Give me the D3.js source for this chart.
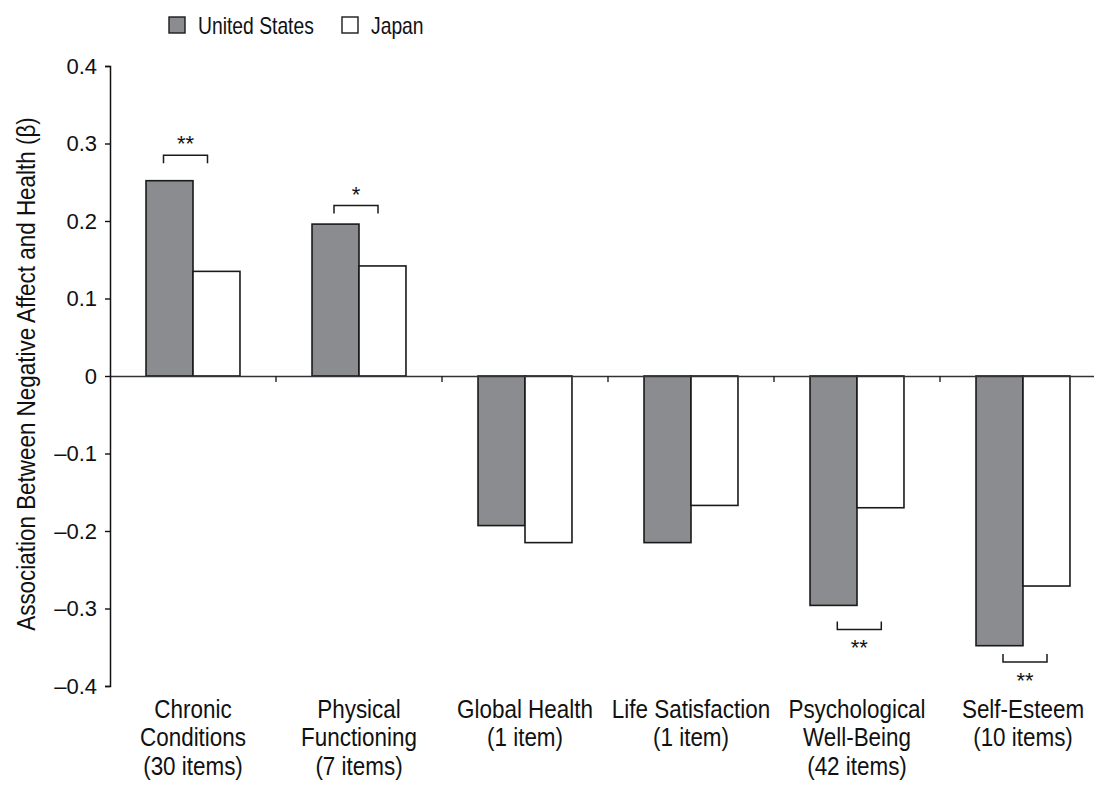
<!DOCTYPE html>
<html>
<head>
<meta charset="utf-8">
<script src="https://cdn.jsdelivr.net/npm/d3@7"></script>
<style>
  html, body { margin: 0; padding: 0; background: #fff; }
  svg text { font-family: "Liberation Sans", Arial, sans-serif; fill: #111; }
</style>
</head>
<body>
<svg id="chart" width="1094" height="785"></svg>
<script>
// Outcome measures (x categories), each drawn as up to three lines
const categories = [
  ["Chronic", "Conditions", "(30 items)"],
  ["Physical", "Functioning", "(7 items)"],
  ["Global Health", "(1 item)"],
  ["Life Satisfaction", "(1 item)"],
  ["Psychological", "Well-Being", "(42 items)"],
  ["Self-Esteem", "(10 items)"]
];
const seriesNames = ["United States", "Japan"];
const usValues    = [0.252, 0.196, -0.193, -0.215, -0.296, -0.348];
const japanValues = [0.135, 0.142, -0.215, -0.167, -0.170, -0.271];
const yTicks = [0.4, 0.3, 0.2, 0.1, 0, -0.1, -0.2, -0.3, -0.4];

// Significance markers: category index, bracket level (beta units), stars
const sigCategory = [0, 1, 4, 5];
const sigLevel    = [0.285, 0.220, -0.327, -0.369];
const sigStars    = ["**", "*", "**", "**"];

const svg = d3.select("#chart");
const plot = { left: 110, right: 1106, top: 66, bottom: 686 };
const condensed = 0.88;   // horizontal squeeze for a condensed face

const y = d3.scaleLinear().domain([-0.4, 0.4]).range([plot.bottom, plot.top]);
const x = d3.scaleBand().domain(d3.range(categories.length)).range([plot.left, plot.right]).padding(0);
const groupWidth = x.bandwidth() * 0.566;
const xs = d3.scaleBand().domain(seriesNames).range([0, groupWidth]).padding(0);
const fills = { "United States": "#8b8c90", "Japan": "#ffffff" };

// Bars
const rows = categories.map((c, i) => ({ i, values: [usValues[i], japanValues[i]] }));
const groups = svg.append("g").selectAll("g").data(rows).join("g")
  .attr("transform", d => `translate(${x(d.i) + (x.bandwidth() - groupWidth) / 2},0)`);
groups.selectAll("rect")
  .data(d => d.values.map((v, k) => ({ name: seriesNames[k], v })))
  .join("rect")
  .attr("x", d => xs(d.name))
  .attr("width", xs.bandwidth())
  .attr("y", d => y(Math.max(0, d.v)))
  .attr("height", d => Math.abs(y(d.v) - y(0)))
  .attr("fill", d => fills[d.name])
  .attr("stroke", "#1a1a1a")
  .attr("stroke-width", 1.6);

// Zero baseline with category separators
const zeroAxis = d3.axisBottom(x).tickSize(0).tickFormat("");
svg.append("g").attr("transform", `translate(0,${y(0)})`).call(zeroAxis)
  .call(g => g.select(".domain").attr("stroke", "#333").attr("stroke-width", 1.4));
svg.append("g").selectAll("line")
  .data(d3.range(1, categories.length))
  .join("line")
  .attr("x1", i => x(i)).attr("x2", i => x(i))
  .attr("y1", y(0)).attr("y2", y(0) + 6)
  .attr("stroke", "#222").attr("stroke-width", 1.4);

// Y axis
const yAxis = d3.axisLeft(y).tickValues(yTicks).tickSize(5).tickPadding(8)
  .tickFormat(d => d === 0 ? "0" : (d < 0 ? "\u2013" : "") + Math.abs(d).toFixed(1));
svg.append("g").attr("transform", `translate(${plot.left},0)`).call(yAxis)
  .call(g => g.select(".domain").attr("stroke", "#111").attr("stroke-width", 1.5))
  .call(g => g.selectAll(".tick line").attr("stroke", "#111").attr("stroke-width", 1.4))
  .call(g => g.selectAll(".tick text").style("font-size", "22px").attr("fill", "#111")
    .style("font-family", '"Liberation Sans", Arial, sans-serif'));

svg.append("text")
  .attr("transform", `translate(35,${(plot.top + plot.bottom) / 2 - 2}) rotate(-90) scale(${condensed},1)`)
  .attr("text-anchor", "middle")
  .style("font-size", "25.5px")
  .text("Association Between Negative Affect and Health (\u03B2)");

// Category labels
const labels = svg.append("g").selectAll("text").data(categories).join("text")
  .attr("text-anchor", "middle")
  .style("font-size", "25.5px")
  .attr("transform", (d, i) => `translate(${x(i) + x.bandwidth() / 2},718) scale(${condensed},1)`);
labels.selectAll("tspan").data(d => d).join("tspan")
  .attr("x", 0).attr("dy", (d, k) => k === 0 ? 0 : 28.5)
  .text(d => d);

// Significance brackets
const bracketHalf = 22;
const bracketOffset = [-7.5, -3, 2.3, 2];
const sig = svg.append("g");
sigCategory.forEach((ci, k) => {
  const cx = x(ci) + x.bandwidth() / 2 + bracketOffset[k];
  const ly = y(sigLevel[k]);
  const up = sigLevel[k] > 0;
  const leg = up ? 8 : -8;
  sig.append("path")
    .attr("d", `M${cx - bracketHalf},${ly + leg}V${ly}H${cx + bracketHalf}V${ly + leg}`)
    .attr("fill", "none").attr("stroke", "#1a1a1a").attr("stroke-width", 1.5);
  sig.append("text")
    .attr("x", cx).attr("y", up ? ly - 4 : ly + 26)
    .attr("text-anchor", "middle")
    .style("font-size", "22px")
    .text(sigStars[k]);
});

// Legend
const legend = svg.append("g").attr("transform", "translate(169,17)");
const legendX = [0, 173];
seriesNames.forEach((name, k) => {
  const g = legend.append("g").attr("transform", `translate(${legendX[k]},0)`);
  g.append("rect").attr("width", 16).attr("height", 16)
    .attr("fill", fills[name]).attr("stroke", "#1a1a1a").attr("stroke-width", 1.4);
  g.append("text").attr("transform", `translate(29,16.5) scale(0.84,1)`)
    .style("font-size", "23px").text(name);
});
</script>
</body>
</html>
